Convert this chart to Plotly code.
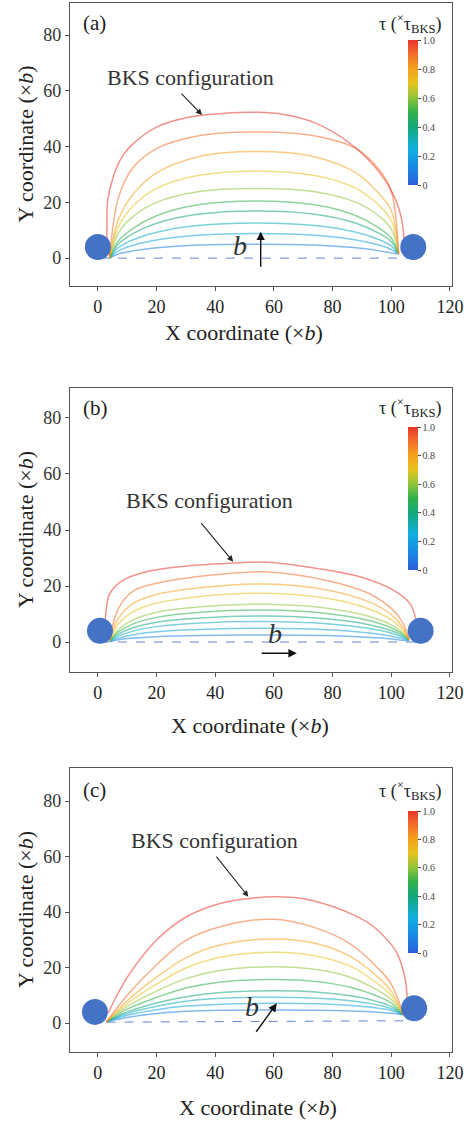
import plotly.graph_objects as go
from plotly.colors import sample_colorscale

SERIF = "Liberation Serif"

# Applied stress levels (fraction of the BKS stress) for the bowed dislocation lines
tau_levels = [0.1, 0.2, 0.3, 0.4, 0.5, 0.6, 0.7, 0.8, 0.9]

# ---------------- Panel (a) ----------------
a_grid_x = [4, 7, 12, 20, 34, 54, 74, 88, 96, 100, 102.5]
a_curves_y = [
    [0, 1.5, 2.6, 3.7, 4.7, 5.0, 4.7, 3.7, 2.6, 1.8, 1.5],
    [0, 2.6, 4.6, 6.5, 8.2, 8.8, 8.2, 6.5, 4.6, 3.1, 1.5],
    [0, 3.8, 6.6, 9.3, 11.7, 12.6, 11.7, 9.3, 6.6, 4.4, 1.5],
    [0, 5.1, 8.8, 12.5, 15.7, 16.9, 15.7, 12.5, 8.8, 5.9, 1.5],
    [0, 6.2, 10.7, 15.2, 19.1, 20.5, 19.1, 15.2, 10.7, 7.2, 1.5],
    [0, 9.0, 15.0, 20.0, 23.8, 25.0, 23.8, 20.0, 15.0, 10.5, 1.5],
    [0, 11.2, 18.7, 25.0, 29.6, 31.2, 29.6, 25.0, 18.7, 13.5, 1.5],
    [0, 13.8, 22.9, 30.6, 36.3, 38.2, 36.3, 30.6, 22.9, 17.0, 1.5],
    [0, 21.7, 32.5, 39.3, 43.8, 45.2, 43.8, 39.3, 31.6, 24.0, 1.5],
]
a_bks_x = [4, 3.2, 3.1, 3.4, 5.2, 7.5, 10.9, 20, 31.4, 45, 54, 63, 74, 86, 96.2, 102, 104.2, 104.0]
a_bks_y = [1, 6, 14, 21, 29, 35, 39.9, 47, 50.6, 52.1, 52.3, 51.6, 48.5, 41.1, 30.4, 19.6, 8.9, 3.0]
a_straight_x = [0.7, 108]
a_straight_y = [0, 0]
a_pin_x = [0, 107.5]
a_pin_y = [4, 4]

# ---------------- Panel (b) ----------------
b_grid_x = [4, 7, 12, 20, 35, 57, 78, 92, 100, 104, 106]
b_curves_y = [
    [0.1, 0.8, 1.4, 1.9, 2.3, 2.5, 2.3, 1.7, 1.1, 0.6, 0.5],
    [0.2, 1.4, 2.6, 3.7, 4.5, 4.9, 4.4, 3.3, 2.1, 1.2, 0.6],
    [0.3, 2.1, 3.9, 5.5, 6.8, 7.3, 6.5, 4.9, 3.2, 1.7, 0.7],
    [0.3, 2.8, 5.1, 7.1, 8.6, 9.3, 8.3, 6.3, 4.1, 2.2, 0.8],
    [0.4, 3.6, 6.5, 8.8, 10.6, 11.4, 10.2, 7.8, 5.1, 2.7, 0.8],
    [0.4, 4.5, 7.9, 10.6, 12.6, 13.5, 12.1, 9.3, 6.1, 3.2, 0.8],
    [0.5, 6.5, 10.8, 13.9, 16.3, 17.4, 15.6, 12.0, 8.0, 4.2, 0.8],
    [0.5, 8.5, 13.8, 17.0, 19.4, 20.7, 18.6, 14.5, 9.8, 5.2, 0.8],
    [0.5, 12.0, 18.2, 21.0, 23.5, 25.1, 22.0, 17.5, 12.0, 6.8, 0.8],
]
b_bks_x = [2.5, 3.0, 4.1, 8.6, 16.6, 28, 45, 58, 74.5, 89.3, 100.6, 106.3, 108.2, 108.5]
b_bks_y = [7.5, 13, 17.4, 22.1, 25.1, 26.9, 28.1, 28.5, 26.3, 23.3, 18.6, 13.8, 9.0, 7.5]
b_straight_x = [0.7, 110]
b_straight_y = [0, 0]
b_pin_x = [0.7, 110]
b_pin_y = [4, 4]

# ---------------- Panel (c) ----------------
c_grid_x = [3, 10, 20, 30, 42, 60, 75, 86, 95, 100, 104]
c_curves_y = [
    [0.5, 2.0, 3.4, 4.2, 4.6, 4.7, 4.6, 4.3, 3.9, 3.5, 3.0],
    [0.5, 2.8, 4.8, 6.1, 6.8, 7.1, 6.9, 6.3, 5.4, 4.5, 3.0],
    [0.5, 3.4, 6.0, 7.8, 8.9, 9.3, 8.9, 8.0, 6.6, 5.2, 3.0],
    [0.5, 4.0, 7.2, 9.5, 11.0, 11.6, 11.1, 9.8, 7.8, 6.0, 3.0],
    [0.5, 5.0, 9.2, 12.6, 14.8, 15.7, 14.9, 12.9, 9.8, 7.2, 3.0],
    [0.5, 6.0, 11.5, 16.0, 19.0, 20.3, 19.2, 16.5, 12.0, 8.5, 3.0],
    [0.5, 7.0, 14.0, 19.8, 23.8, 25.5, 24.0, 20.5, 14.5, 10.0, 3.0],
    [0.5, 8.0, 16.5, 23.5, 28.2, 30.3, 28.5, 24.0, 17.0, 11.5, 3.0],
    [0.5, 10.0, 21.0, 29.8, 34.8, 37.4, 34.0, 28.5, 20.3, 14.0, 3.5],
]
c_bks_x = [3.5, 6.5, 10.9, 20, 30.2, 41.6, 51.9, 60, 70, 80.3, 88, 94, 99, 102, 104.8, 105.4, 105.2]
c_bks_y = [3.5, 10, 17.9, 29.9, 38.3, 43.1, 44.9, 45.5, 44.8, 41.9, 38.5, 34.7, 29.5, 25.1, 15.5, 8.3, 5.0]
c_straight_x = [3, 104]
c_straight_y = [0.3, 0.8]
c_pin_x = [-1, 107.8]
c_pin_y = [4, 5.3]

# Colour bar ticks
cbar_vals = [0, 0.2, 0.4, 0.6, 0.8, 1.0]
cbar_text = ["0", "0.2", "0.4", "0.6", "0.8", "1.0"]

JET = [
    [0.0, "#2b5fd9"], [0.15, "#1591e6"], [0.25, "#12aee0"], [0.4, "#13a87a"],
    [0.5, "#2fb14a"], [0.6, "#8fc43b"], [0.7, "#e6c21f"], [0.8, "#f5a21d"],
    [0.9, "#f3702a"], [1.0, "#e8352b"],
]


def tau_color(t, alpha=0.55):
    rgb = sample_colorscale(JET, [t])[0]
    return rgb.replace("rgb(", "rgba(").replace(")", f", {alpha})")


panels = [
    dict(grid=a_grid_x, curves=a_curves_y, bks_x=a_bks_x, bks_y=a_bks_y,
         sx=a_straight_x, sy=a_straight_y, px=a_pin_x, py=a_pin_y),
    dict(grid=b_grid_x, curves=b_curves_y, bks_x=b_bks_x, bks_y=b_bks_y,
         sx=b_straight_x, sy=b_straight_y, px=b_pin_x, py=b_pin_y),
    dict(grid=c_grid_x, curves=c_curves_y, bks_x=c_bks_x, bks_y=c_bks_y,
         sx=c_straight_x, sy=c_straight_y, px=c_pin_x, py=c_pin_y),
]

fig = go.Figure()
for i, p in enumerate(panels):
    xa = "x" if i == 0 else f"x{i + 1}"
    ya = "y" if i == 0 else f"y{i + 1}"
    cax = "coloraxis" if i == 0 else f"coloraxis{i + 1}"
    # straight (unstressed) line
    fig.add_trace(go.Scatter(x=p["sx"], y=p["sy"], mode="lines", xaxis=xa, yaxis=ya,
                             line=dict(color="rgba(70,110,210,0.85)", width=1, dash="dash"),
                             showlegend=False, hoverinfo="skip"))
    for t, ys in zip(tau_levels, p["curves"]):
        fig.add_trace(go.Scatter(x=p["grid"], y=ys, mode="lines", xaxis=xa, yaxis=ya,
                                 line=dict(color=tau_color(t), width=1.5, shape="spline", smoothing=1.0),
                                 showlegend=False, hoverinfo="skip"))
    fig.add_trace(go.Scatter(x=p["bks_x"], y=p["bks_y"], mode="lines", xaxis=xa, yaxis=ya,
                             line=dict(color=tau_color(1.0, 0.55), width=1.5, shape="spline", smoothing=1.0),
                             showlegend=False, hoverinfo="skip"))
    # pinning obstacles
    fig.add_trace(go.Scatter(x=p["px"], y=p["py"], mode="markers", xaxis=xa, yaxis=ya,
                             marker=dict(size=26, color="#4472c4", line=dict(width=0)),
                             showlegend=False, hoverinfo="skip"))
    # carrier of the colour bar
    fig.add_trace(go.Scatter(x=[-100], y=[-100], mode="markers", xaxis=xa, yaxis=ya,
                             marker=dict(color=[0.5], coloraxis=cax, size=1),
                             showlegend=False, hoverinfo="skip"))

W, H = 464, 1124
ML, MR = 70, 12
PW = W - ML - MR


def px_x(px):
    return (px - ML) / PW


def px_y(py):
    return 1 - py / H


frames = [(3, 286), (388, 672), (768, 1052)]
yranges = [[-10.0, 91.5], [-10.7, 90.7], [-10.45, 91.9]]
cbar_px = [(40, 185), (427, 570), (811, 953)]

axis_common = dict(showline=True, mirror=True, linecolor="#555", linewidth=1.3,
                   ticks="outside", ticklen=4, tickcolor="#555", showgrid=False, zeroline=False,
                   tickfont=dict(family=SERIF, size=18, color="#222"))

layout = dict(width=W, height=H, margin=dict(l=ML, r=MR, t=0, b=0),
              paper_bgcolor="white", plot_bgcolor="white",
              font=dict(family=SERIF, color="#222"), annotations=[])

for i, (top, bot) in enumerate(frames):
    sfx = "" if i == 0 else str(i + 1)
    layout[f"xaxis{sfx}"] = dict(axis_common, domain=[0, 1], range=[-9.5, 120.7],
                                 tickvals=[0, 20, 40, 60, 80, 100, 120], anchor=f"y{sfx}")
    layout[f"yaxis{sfx}"] = dict(axis_common, domain=[px_y(bot), px_y(top)], range=yranges[i],
                                 tickvals=[0, 20, 40, 60, 80], anchor=f"x{sfx}",
                                 tickfont=dict(family=SERIF, size=18, color="#333"))
    ctop, cbot = cbar_px[i]
    layout[f"coloraxis{sfx}"] = dict(
        colorscale=JET, cmin=0, cmax=1,
        colorbar=dict(x=px_x(408), xanchor="left", xpad=0, y=px_y((ctop + cbot) / 2),
                      yanchor="middle", ypad=0, len=cbot - ctop, lenmode="pixels",
                      thickness=10, outlinewidth=0, ticks="outside", ticklen=3,
                      tickcolor="#444", tickvals=cbar_vals, ticktext=cbar_text,
                      tickfont=dict(family=SERIF, size=10, color="#444")))

ann = layout["annotations"]

# axis titles
x_title_pos = [(244, 333), (250, 725), (258, 1107)]
for (cx, cy) in x_title_pos:
    ann.append(dict(text="X coordinate (×<i>b</i>)", xref="paper", yref="paper",
                    x=px_x(cx), y=px_y(cy), xanchor="center", yanchor="middle",
                    showarrow=False, font=dict(family=SERIF, size=22, color="#222")))
for (top, bot) in frames:
    ann.append(dict(text="Y coordinate (×<i>b</i>)", xref="paper", yref="paper",
                    x=px_x(25), y=px_y((top + bot) / 2), xanchor="center", yanchor="middle",
                    textangle=-90, showarrow=False, font=dict(family=SERIF, size=22, color="#222")))

# panel tags and colour-bar captions
for tag, cy in zip(["(a)", "(b)", "(c)"], [23, 408, 790]):
    ann.append(dict(text=tag, xref="paper", yref="paper", x=px_x(81), y=px_y(cy),
                    xanchor="left", yanchor="middle", showarrow=False,
                    font=dict(family=SERIF, size=21, color="#222")))
    ann.append(dict(text="τ (<sup>×</sup>τ<sub>BKS</sub>)", xref="paper", yref="paper",
                    x=px_x(444), y=px_y(cy), xanchor="right", yanchor="middle", showarrow=False,
                    font=dict(family=SERIF, size=18, color="#222")))

# "BKS configuration" callouts
bks_label = [(31.4, 64.9), (38.2, 50.7), (39.9, 65.9)]
bks_arrow = [((28, 59.5), (35.5, 51.3)), ((34.8, 43), (46.1, 28.7)), ((40, 60.5), (51.3, 45.5))]
# Burgers vector arrows and labels
b_label = [(48.5, 4.5), (60.4, 3.0), (52.5, 6.0)]
b_arrow = [((55.5, -3.6), (55.5, 9.5)), ((55.3, -4), (67.8, -4)), ((53.6, -3.7), (61, 7.1))]

for i in range(3):
    sfx = "" if i == 0 else str(i + 1)
    xr, yr = f"x{sfx}", f"y{sfx}"
    lx, ly = bks_label[i]
    ann.append(dict(text="BKS configuration", xref=xr, yref=yr, x=lx, y=ly, showarrow=False,
                    xanchor="center", yanchor="middle", font=dict(family=SERIF, size=22, color="#333")))
    (tx, ty), (hx, hy) = bks_arrow[i]
    ann.append(dict(text="", xref=xr, yref=yr, axref=xr, ayref=yr, x=hx, y=hy, ax=tx, ay=ty,
                    showarrow=True, arrowhead=2, arrowsize=1.1, arrowwidth=1.1, arrowcolor="#222"))
    bx, by = b_label[i]
    ann.append(dict(text="<i>b</i>", xref=xr, yref=yr, x=bx, y=by, showarrow=False,
                    xanchor="center", yanchor="middle", font=dict(family=SERIF, size=28, color="#333")))
    (tx, ty), (hx, hy) = b_arrow[i]
    ann.append(dict(text="", xref=xr, yref=yr, axref=xr, ayref=yr, x=hx, y=hy, ax=tx, ay=ty,
                    showarrow=True, arrowhead=2, arrowsize=1.2, arrowwidth=1.4, arrowcolor="#111"))

fig.update_layout(**layout)
fig.write_html("out.html")
